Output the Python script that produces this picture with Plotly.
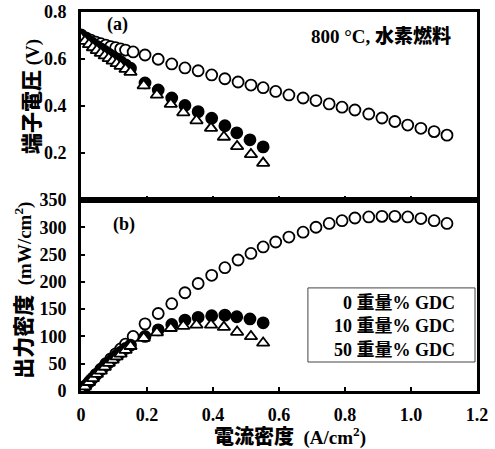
import plotly.graph_objects as go

# ---- data ----
I0 = [0, 0.015, 0.03, 0.045, 0.06, 0.075, 0.09, 0.105, 0.12, 0.135,
      0.158, 0.194, 0.234, 0.275, 0.315, 0.355, 0.396, 0.436, 0.476, 0.515,
      0.552, 0.59, 0.63, 0.673, 0.712, 0.752, 0.791, 0.83, 0.872, 0.912,
      0.951, 0.99, 1.03, 1.07, 1.109]
V0 = [0.703, 0.69, 0.68, 0.672, 0.665, 0.659, 0.653, 0.648, 0.643, 0.638,
      0.630, 0.617, 0.599, 0.579, 0.562, 0.55, 0.532, 0.516, 0.502, 0.489,
      0.478, 0.462, 0.447, 0.434, 0.423, 0.409, 0.395, 0.383, 0.366, 0.349,
      0.334, 0.319, 0.305, 0.291, 0.276]
P0 = [0, 10, 20, 30, 40, 50, 59, 68, 77, 86,
      100, 123, 142, 160, 180, 197, 212, 226, 240, 252,
      264, 273, 282, 291, 300, 307, 312, 317, 319, 320,
      320, 319, 316, 312, 307]

I10 = [0, 0.012, 0.024, 0.036, 0.048, 0.06, 0.072, 0.084, 0.096, 0.108, 0.12, 0.135, 0.15,
       0.194, 0.234, 0.275, 0.315, 0.355, 0.396, 0.436, 0.472, 0.512, 0.552]
V10 = [0.70, 0.688, 0.676, 0.665, 0.654, 0.643, 0.632, 0.621, 0.611, 0.600, 0.589, 0.575, 0.561,
       0.498, 0.468, 0.434, 0.402, 0.376, 0.348, 0.316, 0.286, 0.256, 0.226]
P10 = [0, 8, 16, 24, 31, 39, 46, 52, 59, 65, 71, 78, 84,
       100, 112, 122, 130, 135, 138, 139, 136, 132, 125]

I50 = [0, 0.012, 0.024, 0.036, 0.048, 0.06, 0.072, 0.084, 0.096, 0.108, 0.12, 0.135, 0.15,
       0.19, 0.23, 0.272, 0.31, 0.35, 0.394, 0.433, 0.473, 0.515, 0.552]
V50 = [0.69, 0.676, 0.662, 0.649, 0.637, 0.625, 0.614, 0.603, 0.592, 0.581, 0.570, 0.557, 0.544,
       0.487, 0.447, 0.408, 0.372, 0.338, 0.306, 0.268, 0.228, 0.194, 0.157]
P50 = [0, 8, 16, 23, 31, 37, 44, 51, 57, 63, 68, 75, 82,
       97, 107, 115, 119, 121, 121, 117, 108, 100, 88]

series_names = ["0 重量% GDC", "10 重量% GDC", "50 重量% GDC"]
x_ticks = [0, 0.2, 0.4, 0.6, 0.8, 1.0, 1.2]
x_ticktext = ["0", "0.2", "0.4", "0.6", "0.8", "1.0", "1.2"]
v_ticks = [0.2, 0.4, 0.6, 0.8]
p_ticks = [0, 50, 100, 150, 200, 250, 300, 350]

FONT = "Liberation Serif, Noto Sans CJK JP, serif"

styles = [
    dict(symbol="circle", color="white", line=dict(color="black", width=1.8), size=11),
    dict(symbol="circle", color="black", line=dict(color="black", width=1.8), size=11),
    dict(symbol="triangle-up", color="white", line=dict(color="black", width=1.8), size=11),
]

fig = go.Figure()
data = [(I0, V0, P0), (I10, V10, P10), (I50, V50, P50)]
for (I, V, P), name, st in zip(data, series_names, styles):
    fig.add_trace(go.Scatter(x=I, y=V, mode="markers", name=name, marker=st,
                             xaxis="x", yaxis="y", showlegend=False))
    fig.add_trace(go.Scatter(x=I, y=P, mode="markers", name=name, marker=st,
                             xaxis="x2", yaxis="y2", showlegend=False))

axis_common = dict(showline=True, linewidth=3, linecolor="black", mirror=True,
                   ticks="inside", ticklen=4, tickwidth=2, tickcolor="black",
                   showgrid=False, zeroline=False, automargin=False,
                   tickfont=dict(family=FONT, size=18, color="black", weight="bold"))

dom_split = 0.504
fig.update_layout(
    width=495, height=449,
    margin=dict(l=81, r=18, t=12, b=58, autoexpand=False),
    paper_bgcolor="white", plot_bgcolor="white",
    xaxis=dict(axis_common, domain=[0, 1], anchor="y", range=[0, 1.2],
               tickvals=x_ticks, showticklabels=False, matches="x2"),
    yaxis=dict(axis_common, domain=[dom_split, 1], anchor="x", range=[0, 0.8],
               tickvals=v_ticks, ticktext=["0.2", "0.4", "0.6", "0.8"],
               ticklabelstandoff=8),
    xaxis2=dict(axis_common, domain=[0, 1], anchor="y2", range=[0, 1.2],
                tickvals=x_ticks, ticktext=x_ticktext, ticklabelstandoff=5),
    yaxis2=dict(axis_common, domain=[0, dom_split], anchor="x2", range=[0, 350],
                tickvals=p_ticks, ticklabelstandoff=8),
    showlegend=False,
)

def ann(text, x, y, size=17, xanchor="center", yanchor="middle", angle=0, align="center"):
    fig.add_annotation(text=text, x=x, y=y, xref="paper", yref="paper",
                       xanchor=xanchor, yanchor=yanchor, textangle=angle, align=align,
                       showarrow=False,
                       font=dict(family=FONT, size=size, color="black", weight="bold"))

ann("<span style='font-size:21px;font-weight:900'>端子電圧</span> (V)", -0.124, 0.778, size=19, angle=-90)
ann("<span style='font-size:21px;font-weight:900'>出力密度</span>\u00a0\u00a0(mW/cm<sup>2</sup>)", -0.145, 0.266, size=19, angle=-90)
ann("<span style='font-size:20px;font-weight:900'>電流密度</span>\u00a0\u00a0(A/cm<sup>2</sup>)", 0.528, -0.121, size=19)
ann("(a)", 0.093, 0.968, size=18)
ann("(b)", 0.109, 0.438, size=18)
ann("800 °C, <span style='font-weight:900'>水素燃料</span>", 0.939, 0.937, size=19, xanchor="right")
ann("<br>".join(series_names), 0.949, 0.1715, size=18, xanchor="right", align="right")

fig.add_shape(type="rect", xref="paper", yref="paper",
              x0=0.573, x1=0.995, y0=0.0765, y1=0.272,
              line=dict(color="#444", width=1), fillcolor="rgba(0,0,0,0)")

fig.write_html("out.html", config={"displayModeBar": False},
               post_script="document.body.style.margin='0px';")
